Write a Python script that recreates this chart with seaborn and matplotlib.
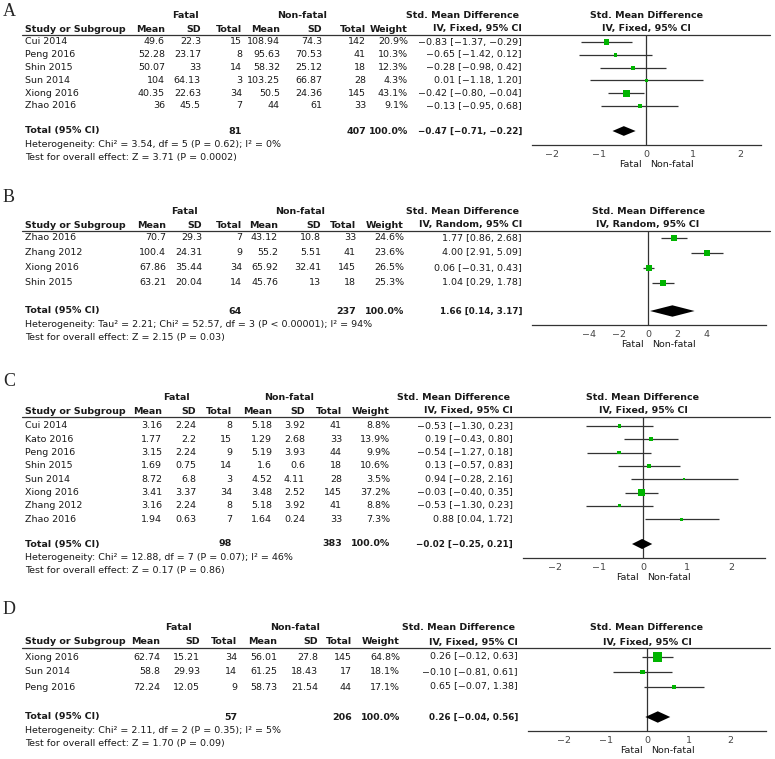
import numpy as np
import pandas as pd
import matplotlib
matplotlib.use('Agg')
import matplotlib.pyplot as plt
import seaborn as sns
from matplotlib.lines import Line2D

sns.set_style('white')
plt.rcParams['font.family'] = ['DejaVu Sans']

W, H = 775, 759
FS = 6.8
LINE = '#333333'
GREEN = '#00b400'

# ---------------- data ----------------
# A
studies_a = ['Cui 2014', 'Peng 2016', 'Shin 2015', 'Sun 2014', 'Xiong 2016', 'Zhao 2016']
f_mean_a = [49.6, 52.28, 50.07, 104, 40.35, 36]
f_sd_a = [22.3, 23.17, 33, 64.13, 22.63, 45.5]
f_n_a = [15, 8, 14, 3, 34, 7]
nf_mean_a = [108.94, 95.63, 58.32, 103.25, 50.5, 44]
nf_sd_a = [74.3, 70.53, 25.12, 66.87, 24.36, 61]
nf_n_a = [142, 41, 18, 28, 145, 33]
weight_a = [20.9, 10.3, 12.3, 4.3, 43.1, 9.1]
smd_a = [-0.83, -0.65, -0.28, 0.01, -0.42, -0.13]
lo_a = [-1.37, -1.42, -0.98, -1.18, -0.80, -0.95]
hi_a = [-0.29, 0.12, 0.42, 1.20, -0.04, 0.68]
total_a = [81, 407, -0.47, -0.71, -0.22]
het_a = 'Heterogeneity: Chi² = 3.54, df = 5 (P = 0.62); I² = 0%'
test_a = 'Test for overall effect: Z = 3.71 (P = 0.0002)'

# B
studies_b = ['Zhao 2016', 'Zhang 2012', 'Xiong 2016', 'Shin 2015']
f_mean_b = [70.7, 100.4, 67.86, 63.21]
f_sd_b = [29.3, 24.31, 35.44, 20.04]
f_n_b = [7, 9, 34, 14]
nf_mean_b = [43.12, 55.2, 65.92, 45.76]
nf_sd_b = [10.8, 5.51, 32.41, 13]
nf_n_b = [33, 41, 145, 18]
weight_b = [24.6, 23.6, 26.5, 25.3]
smd_b = [1.77, 4.00, 0.06, 1.04]
lo_b = [0.86, 2.91, -0.31, 0.29]
hi_b = [2.68, 5.09, 0.43, 1.78]
total_b = [64, 237, 1.66, 0.14, 3.17]
het_b = 'Heterogeneity: Tau² = 2.21; Chi² = 52.57, df = 3 (P < 0.00001); I² = 94%'
test_b = 'Test for overall effect: Z = 2.15 (P = 0.03)'

# C
studies_c = ['Cui 2014', 'Kato 2016', 'Peng 2016', 'Shin 2015', 'Sun 2014',
             'Xiong 2016', 'Zhang 2012', 'Zhao 2016']
f_mean_c = [3.16, 1.77, 3.15, 1.69, 8.72, 3.41, 3.16, 1.94]
f_sd_c = [2.24, 2.2, 2.24, 0.75, 6.8, 3.37, 2.24, 0.63]
f_n_c = [8, 15, 9, 14, 3, 34, 8, 7]
nf_mean_c = [5.18, 1.29, 5.19, 1.6, 4.52, 3.48, 5.18, 1.64]
nf_sd_c = [3.92, 2.68, 3.93, 0.6, 4.11, 2.52, 3.92, 0.24]
nf_n_c = [41, 33, 44, 18, 28, 145, 41, 33]
weight_c = [8.8, 13.9, 9.9, 10.6, 3.5, 37.2, 8.8, 7.3]
smd_c = [-0.53, 0.19, -0.54, 0.13, 0.94, -0.03, -0.53, 0.88]
lo_c = [-1.30, -0.43, -1.27, -0.57, -0.28, -0.40, -1.30, 0.04]
hi_c = [0.23, 0.80, 0.18, 0.83, 2.16, 0.35, 0.23, 1.72]
total_c = [98, 383, -0.02, -0.25, 0.21]
het_c = 'Heterogeneity: Chi² = 12.88, df = 7 (P = 0.07); I² = 46%'
test_c = 'Test for overall effect: Z = 0.17 (P = 0.86)'

# D
studies_d = ['Xiong 2016', 'Sun 2014', 'Peng 2016']
f_mean_d = [62.74, 58.8, 72.24]
f_sd_d = [15.21, 29.93, 12.05]
f_n_d = [34, 14, 9]
nf_mean_d = [56.01, 61.25, 58.73]
nf_sd_d = [27.8, 18.43, 21.54]
nf_n_d = [145, 17, 44]
weight_d = [64.8, 18.1, 17.1]
smd_d = [0.26, -0.10, 0.65]
lo_d = [-0.12, -0.81, -0.07]
hi_d = [0.63, 0.61, 1.38]
total_d = [57, 206, 0.26, -0.04, 0.56]
het_d = 'Heterogeneity: Chi² = 2.11, df = 2 (P = 0.35); I² = 5%'
test_d = 'Test for overall effect: Z = 1.70 (P = 0.09)'

# ---------------- layout (pixels) ----------------
layout = {
    'A': dict(label_y=12, line_y=35, first=42, step=12.8, total_y=131,
              cols=[165, 201, 242, 280, 322, 366, 408, 522], fatal_c=185, nonfatal_c=302,
              x0=532, x1=761, zero=646, ppu=47.2, ticks=[-2, -1, 0, 1, 2], model='Fixed'),
    'B': dict(label_y=198, line_y=231, first=238, step=15, total_y=311,
              cols=[166, 202, 242, 278, 321, 356, 404, 522], fatal_c=184, nonfatal_c=300,
              x0=532, x1=766, zero=648, ppu=14.7, ticks=[-4, -2, 0, 2, 4], model='Random'),
    'C': dict(label_y=381, line_y=417, first=426, step=13.3, total_y=544,
              cols=[162, 196, 232, 272, 305, 342, 390, 513], fatal_c=176, nonfatal_c=289,
              x0=523, x1=765, zero=643, ppu=44, ticks=[-2, -1, 0, 1, 2], model='Fixed'),
    'D': dict(label_y=610, line_y=648, first=657, step=15, total_y=717,
              cols=[160, 200, 237, 277, 318, 352, 400, 518], fatal_c=178, nonfatal_c=295,
              x0=528, x1=766, zero=647, ppu=41.5, ticks=[-2, -1, 0, 1, 2], model='Fixed'),
}

panels = {
    'A': (studies_a, f_mean_a, f_sd_a, f_n_a, nf_mean_a, nf_sd_a, nf_n_a, weight_a,
          smd_a, lo_a, hi_a, total_a, het_a, test_a),
    'B': (studies_b, f_mean_b, f_sd_b, f_n_b, nf_mean_b, nf_sd_b, nf_n_b, weight_b,
          smd_b, lo_b, hi_b, total_b, het_b, test_b),
    'C': (studies_c, f_mean_c, f_sd_c, f_n_c, nf_mean_c, nf_sd_c, nf_n_c, weight_c,
          smd_c, lo_c, hi_c, total_c, het_c, test_c),
    'D': (studies_d, f_mean_d, f_sd_d, f_n_d, nf_mean_d, nf_sd_d, nf_n_d, weight_d,
          smd_d, lo_d, hi_d, total_d, het_d, test_d),
}

fig = plt.figure(figsize=(W / 100, H / 100), dpi=100)
fig.patch.set_facecolor('white')


def fx(x):
    return x / W


def fy(y):
    return 1 - y / H


def txt(x, y, s, ha='right', bold=False, size=FS, **kw):
    fig.text(fx(x), fy(y), s, ha=ha, va='center', fontsize=size,
             fontweight='bold' if bold else 'normal', color='#1a1a1a', **kw)


def num(v):
    return f'{v:g}'


def ci(e, l, h):
    return f'{e:.2f} [{l:.2f}, {h:.2f}]'.replace('-', '\u2212')


for key, (studies, fm, fsd, fn, nm, nsd, nn, wt, est, lo, hi, tot, het, test) in panels.items():
    L = layout[key]
    cols = L['cols']
    ly = L['line_y']
    hy1, hy2 = ly - 20, ly - 6

    fig.text(fx(3), fy(L['label_y']), key, ha='left', va='center', fontsize=13,
             family='Liberation Serif')

    # header
    txt(L['fatal_c'], hy1, 'Fatal', ha='center', bold=True)
    txt(L['nonfatal_c'], hy1, 'Non-fatal', ha='center', bold=True)
    txt(cols[7] - 3, hy1, 'Std. Mean Difference', bold=True)
    txt(25, hy2, 'Study or Subgroup', ha='left', bold=True)
    for c, h in zip(cols[:7], ['Mean', 'SD', 'Total', 'Mean', 'SD', 'Total', 'Weight']):
        txt(c, hy2, h, bold=True)
    txt(cols[7], hy2, f"IV, {L['model']}, 95% CI", bold=True)
    txt(L['zero'], hy1, 'Std. Mean Difference', ha='center', bold=True)
    txt(L['zero'], hy2, f"IV, {L['model']}, 95% CI", ha='center', bold=True)
    fig.add_artist(Line2D([fx(22), fx(770)], [fy(ly), fy(ly)], color=LINE, lw=0.9))

    # rows
    ys = [L['first'] + i * L['step'] for i in range(len(studies))]
    for i, y in enumerate(ys):
        txt(25, y, studies[i], ha='left')
        vals = [num(fm[i]), num(fsd[i]), str(fn[i]), num(nm[i]), num(nsd[i]), str(nn[i]),
                f'{wt[i]:.1f}%']
        for c, v in zip(cols[:7], vals):
            txt(c, y, v)
        txt(cols[7], y, ci(est[i], lo[i], hi[i]))

    ty = L['total_y']
    txt(25, ty, 'Total (95% CI)', ha='left', bold=True)
    txt(cols[2], ty, str(tot[0]), bold=True)
    txt(cols[5], ty, str(tot[1]), bold=True)
    txt(cols[6], ty, '100.0%', bold=True)
    txt(cols[7], ty, ci(tot[2], tot[3], tot[4]), bold=True, size=6.3)
    txt(25, ty + 13.5, het, ha='left')
    txt(25, ty + 26.5, test, ha='left')

    # forest plot
    y_axis = ty + 13.5
    ax = fig.add_axes([fx(L['x0']), fy(y_axis), (L['x1'] - L['x0']) / W, (y_axis - ly) / H])
    ax.patch.set_alpha(0)
    ax.set_xlim((L['x0'] - L['zero']) / L['ppu'], (L['x1'] - L['zero']) / L['ppu'])
    ax.set_ylim(y_axis, ly)
    ax.axvline(0, color=LINE, lw=0.9)
    ax.hlines(ys, lo, hi, color=LINE, lw=0.9)
    df = pd.DataFrame({'est': est, 'y': ys, 'w': wt})
    sns.scatterplot(data=df, x='est', y='y', size='w', sizes=(0, 65), size_norm=(0, 100),
                    marker='s', color=GREEN, linewidth=0, legend=False, ax=ax, zorder=3)
    dh = 0.38 * L['step']
    ax.fill([tot[3], tot[2], tot[4], tot[2]], [ty, ty - dh, ty, ty + dh], color='black', lw=0, zorder=3)
    for s in ['top', 'left', 'right']:
        ax.spines[s].set_visible(False)
    ax.spines['bottom'].set_color(LINE)
    ax.spines['bottom'].set_linewidth(0.9)
    ax.set_yticks([])
    ax.set_xticks(L['ticks'])
    ax.set_xticklabels([str(t).replace('-', '\u2212') for t in L['ticks']])
    ax.tick_params(axis='x', direction='inout', length=7, width=0.9, pad=0.5,
                   labelsize=FS, color=LINE, labelcolor='#444444')
    ax.set(xlabel='', ylabel='')
    txt(L['zero'] - 4, y_axis + 20, 'Fatal', ha='right')
    txt(L['zero'] + 4, y_axis + 20, 'Non-fatal', ha='left')

fig.savefig('out.png', dpi=100, facecolor='white')
